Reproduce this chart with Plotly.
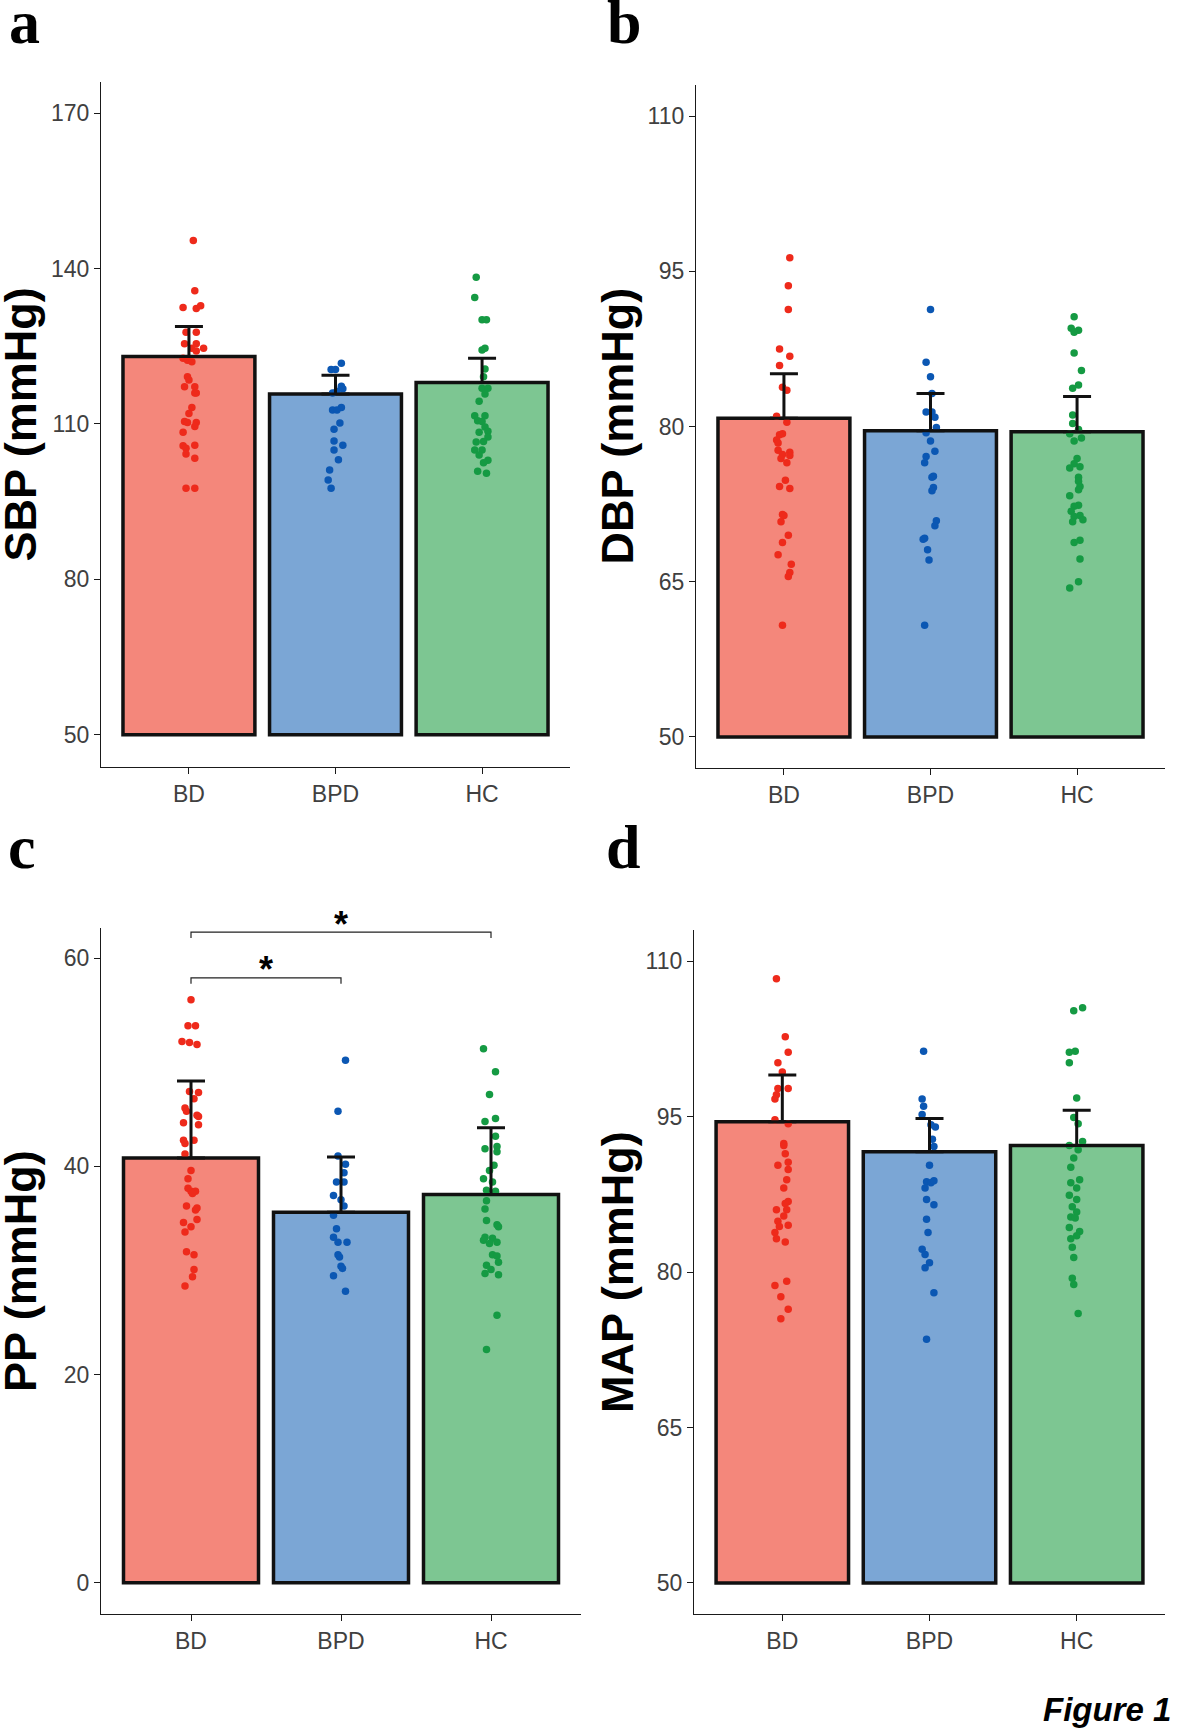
import plotly.graph_objects as go

W, H = 1180, 1732

groups = ['BD', 'BPD', 'HC']
bar_fill = ['#F4877B', '#7BA6D5', '#7DC692']
dot_color = ['#EE2A1B', '#0B57B3', '#159A43']

# --- SBP ---
sbp_mean = [123.0, 115.8, 118.0]
sbp_err = [5.8, 3.6, 4.7]
sbp_bd = [145.4, 135.7, 132.5, 132.3, 132.8, 127.7, 127.7, 125.5, 125.5, 124.6,
          124.6, 124.1, 122.7, 122.3, 122.0, 119.1, 118.5, 117.2, 117.2, 116.0,
          116.0, 113.2, 112.0, 110.5, 110.3, 110.3, 109.5, 108.4, 105.8, 105.9,
          105.3, 104.2, 103.4, 97.6, 97.6]
sbp_bd_jit = [0.03, 0.04, -0.04, 0.05, 0.08, -0.02, 0.05, -0.03, 0.05, 0.02,
              0.10, 0.05, -0.04, -0.01, 0.02, -0.01, 0.0, -0.03, 0.04, 0.04,
              0.05, 0.02, 0.0, -0.03, 0.05, -0.01, 0.04, -0.04, -0.04, 0.04,
              -0.02, -0.02, 0.04, -0.02, 0.04]
sbp_bpd = [121.7, 120.5, 120.5, 117.3, 116.8, 116.3, 116.0, 113.2, 112.7, 112.7,
           110.2, 109.0, 106.7, 105.9, 105.0, 103.1, 101.1, 99.2, 97.6]
sbp_bpd_jit = [0.04, -0.03, 0.0, 0.04, 0.05, 0.01, -0.02, 0.04, -0.02, 0.01,
               0.03, -0.01, -0.01, 0.05, -0.01, 0.02, -0.04, -0.05, -0.03]
sbp_hc = [138.3, 134.4, 130.1, 130.1, 124.3, 124.6, 120.6, 119.1, 116.9, 116.9,
          115.8, 114.4, 111.6, 111.6, 110.6, 110.5, 109.4, 108.6, 108.4, 107.5,
          106.5, 106.6, 105.0, 105.0, 104.0, 103.0, 102.5, 100.9, 100.5]
sbp_hc_jit = [-0.04, -0.05, 0.0, 0.03, 0.0, 0.02, 0.02, 0.01, 0.0, 0.04,
              0.02, -0.02, -0.05, 0.02, -0.03, 0.0, 0.02, 0.04, -0.02, 0.04,
              -0.04, 0.01, -0.05, 0.0, -0.02, 0.04, 0.01, -0.03, 0.03]

# --- DBP ---
dbp_mean = [80.8, 79.6, 79.5]
dbp_err = [4.3, 3.6, 3.4]
dbp_bd = [96.3, 93.6, 91.3, 87.5, 86.8, 85.9, 83.8, 83.5, 81.0, 80.4,
          79.3, 79.2, 78.7, 78.4, 77.7, 77.3, 77.5, 77.2, 76.9, 76.5,
          74.8, 74.2, 74.0, 71.5, 71.4, 70.8, 69.5, 68.8, 67.6, 66.7,
          65.9, 65.5, 60.8]
dbp_bd_jit = [0.04, 0.03, 0.03, -0.03, 0.04, -0.03, -0.01, 0.02, -0.05, 0.02,
              -0.01, -0.03, -0.05, -0.04, -0.04, -0.01, 0.04, 0.04, -0.02, 0.02,
              0.01, -0.03, 0.04, -0.01, 0.0, -0.02, 0.03, -0.01, -0.04, 0.05,
              0.04, 0.03, -0.01]
dbp_bpd = [91.3, 86.2, 84.8, 83.2, 81.4, 81.4, 80.9, 79.9, 79.4, 78.6,
           77.6, 77.1, 76.5, 75.2, 75.1, 74.1, 73.8, 70.9, 70.4, 69.2,
           69.1, 68.1, 67.1, 60.8]
dbp_bpd_jit = [0.0, -0.03, 0.0, 0.01, -0.03, 0.01, 0.03, 0.04, -0.03, 0.0,
               0.03, -0.03, -0.04, 0.02, 0.01, 0.02, 0.01, 0.04, 0.03, -0.04,
               -0.05, -0.02, -0.01, -0.04]
dbp_hc = [90.6, 89.5, 89.3, 89.1, 87.1, 85.4, 84.0, 83.7, 81.1, 80.3,
          79.7, 79.3, 78.9, 78.6, 76.9, 76.4, 76.1, 76.0, 75.1, 74.7,
          74.2, 73.9, 73.3, 72.4, 72.3, 71.8, 71.4, 71.3, 71.0, 70.8,
          69.0, 68.8, 67.2, 65.0, 64.4]
dbp_hc_jit = [-0.02, -0.04, 0.01, -0.02, -0.02, 0.03, 0.01, -0.03, -0.03, -0.03,
              0.01, -0.05, 0.03, -0.02, 0.0, -0.02, 0.02, -0.05, 0.01, 0.01,
              0.02, 0.01, -0.05, 0.01, -0.02, -0.04, 0.02, -0.02, 0.04, -0.03,
              0.02, -0.02, 0.02, 0.01, -0.05]

# --- PP ---
pp_mean = [40.8, 35.6, 37.3]
pp_err = [7.4, 5.3, 6.4]
pp_bd = [56.0, 53.5, 53.5, 52.0, 51.9, 51.7, 47.2, 47.1, 46.5, 45.6,
         45.3, 44.8, 44.9, 44.2, 44.0, 42.5, 42.2, 42.5, 41.2, 39.6,
         38.8, 37.9, 37.6, 37.6, 37.4, 36.2, 35.8, 36.0, 34.9, 34.6,
         34.2, 33.7, 31.8, 31.5, 30.1, 29.4, 28.5]
pp_bd_jit = [0.0, -0.02, 0.03, -0.06, -0.01, 0.04, -0.01, 0.05, 0.02, -0.04,
             -0.03, 0.05, 0.04, -0.05, 0.05, -0.05, -0.04, 0.02, -0.04, 0.0,
             -0.02, -0.02, 0.0, 0.03, 0.01, -0.03, 0.03, 0.04, 0.04, -0.05,
             0.0, -0.04, -0.03, 0.02, 0.02, 0.01, -0.04]
pp_bpd = [50.2, 45.3, 41.0, 40.2, 39.4, 38.5, 38.5, 37.2, 36.8, 36.2,
          35.3, 34.0, 33.2, 32.7, 32.7, 31.5, 31.3, 30.4, 30.2, 29.5, 28.0]
pp_bpd_jit = [0.03, -0.02, -0.02, 0.03, 0.02, -0.03, 0.02, -0.05, 0.0, 0.02,
              -0.05, -0.03, -0.05, -0.02, 0.04, -0.02, -0.01, 0.0, 0.01, -0.05, 0.03]
pp_hc = [51.3, 49.1, 46.9, 44.3, 44.6, 42.9, 41.7, 41.9, 41.4, 40.1,
         39.6, 38.8, 38.5, 37.7, 37.6, 36.7, 35.9, 34.8, 34.4, 34.2,
         33.2, 33.1, 32.7, 32.9, 32.6, 31.5, 31.4, 30.8, 30.5, 30.1,
         29.7, 29.6, 25.7, 22.4]
pp_hc_jit = [-0.05, 0.03, -0.01, -0.04, 0.03, 0.03, -0.04, 0.04, 0.04, 0.02,
             -0.01, -0.05, 0.01, -0.03, 0.03, -0.03, -0.04, -0.03, 0.04, 0.05,
             -0.04, 0.01, 0.04, -0.05, -0.01, 0.01, 0.04, 0.05, -0.03, 0.0,
             -0.04, 0.05, 0.04, -0.03]

# --- MAP ---
map_mean = [94.5, 91.6, 92.2]
map_err = [4.5, 3.2, 3.4]
map_bd = [108.3, 102.7, 101.2, 100.2, 99.3, 97.7, 97.7, 97.1, 96.7, 94.7,
          94.3, 92.4, 92.2, 91.4, 90.6, 90.3, 89.9, 88.9, 88.1, 86.8,
          86.6, 86.0, 86.0, 85.4, 84.9, 84.4, 84.5, 83.8, 83.2, 82.9,
          79.1, 78.7, 77.6, 76.4, 75.5]
map_bd_jit = [-0.04, 0.02, 0.04, -0.03, 0.0, -0.03, 0.04, -0.04, -0.05, -0.05,
              0.04, 0.01, 0.01, 0.02, 0.04, -0.03, 0.04, 0.03, 0.01, 0.04,
              0.02, -0.04, 0.03, 0.01, -0.03, -0.02, 0.04, -0.05, -0.04, 0.02,
              0.03, -0.05, -0.01, 0.04, -0.01]
map_bpd = [101.3, 96.7, 96.0, 95.2, 94.2, 94.0, 92.8, 92.1, 90.3, 88.7,
           88.6, 88.8, 88.1, 87.0, 86.5, 85.1, 83.8, 82.2, 81.7, 80.9,
           80.4, 78.0, 73.5]
map_bpd_jit = [-0.04, -0.05, -0.04, -0.05, 0.01, 0.04, 0.02, 0.03, 0.0, -0.02,
               0.01, 0.03, -0.03, -0.02, 0.03, -0.02, -0.01, -0.05, -0.03, 0.0,
               -0.03, 0.03, -0.02]
map_hc = [105.5, 105.2, 101.3, 101.2, 100.2, 96.8, 94.9, 94.3, 92.2, 92.6,
          91.8, 91.0, 90.1, 88.6, 88.9, 88.1, 87.4, 87.0, 86.3, 85.8,
          85.3, 85.2, 84.3, 83.9, 83.2, 83.5, 82.4, 81.4, 79.4, 78.8, 76.0]
map_hc_jit = [0.04, -0.02, -0.01, -0.05, -0.05, 0.0, -0.02, 0.01, -0.05, 0.04,
              0.01, -0.02, -0.04, -0.04, 0.02, 0.0, -0.05, 0.0, -0.03, 0.0,
              -0.04, -0.01, -0.05, 0.02, -0.04, 0.0, -0.03, -0.02, -0.03, -0.02, 0.01]

# significance brackets in panel c: (from group, to group, height, label)
pp_sig = [(0, 2, 62.5, '*'), (0, 1, 58.1, '*')]
sig_drop = 0.55

# panel setup: letter, title, bar floor, y range, y ticks, domains (pixels)
panels = [
    dict(letter='a', title='SBP (mmHg)', floor=50, yr=[43.8, 176.0],
         yt=[50, 80, 110, 140, 170], mean=sbp_mean, err=sbp_err,
         dots=[(sbp_bd, sbp_bd_jit), (sbp_bpd, sbp_bpd_jit), (sbp_hc, sbp_hc_jit)],
         xd=(101, 570), yd=(82, 767), tx=20, lx=8, lb=43),
    dict(letter='b', title='DBP (mmHg)', floor=50, yr=[47.0, 113.0],
         yt=[50, 65, 80, 95, 110], mean=dbp_mean, err=dbp_err,
         dots=[(dbp_bd, dbp_bd_jit), (dbp_bpd, dbp_bpd_jit), (dbp_hc, dbp_hc_jit)],
         xd=(696, 1165), yd=(85, 768), tx=617, lx=606, lb=43),
    dict(letter='c', title='PP (mmHg)', floor=0, yr=[-3.0, 62.9],
         yt=[0, 20, 40, 60], mean=pp_mean, err=pp_err,
         dots=[(pp_bd, pp_bd_jit), (pp_bpd, pp_bpd_jit), (pp_hc, pp_hc_jit)],
         xd=(101, 581), yd=(928, 1614), tx=20, lx=7, lb=868),
    dict(letter='d', title='MAP (mmHg)', floor=50, yr=[47.0, 113.0],
         yt=[50, 65, 80, 95, 110], mean=map_mean, err=map_err,
         dots=[(map_bd, map_bd_jit), (map_bpd, map_bpd_jit), (map_hc, map_hc_jit)],
         xd=(694, 1165), yd=(930, 1614), tx=617, lx=605, lb=868),
]

tick_font = dict(family='Liberation Sans Narrow, Arial Narrow, Liberation Sans, Arial',
                 size=23, color='#404040')
axis_col = '#1a1a1a'

fig = go.Figure()
layout = dict(width=W, height=H, margin=dict(l=0, r=0, t=0, b=0),
              paper_bgcolor='white', plot_bgcolor='white', showlegend=False,
              annotations=[], shapes=[])

for i, p in enumerate(panels):
    n = '' if i == 0 else str(i + 1)
    xa, ya = 'x' + n, 'y' + n
    xpos = list(range(len(groups)))

    fig.add_trace(go.Bar(
        x=xpos, y=[m - p['floor'] for m in p['mean']], base=p['floor'],
        width=0.9, xaxis=xa, yaxis=ya,
        marker=dict(color=bar_fill, line=dict(color='#111111', width=3.5))))

    for g, (vals, jit) in enumerate(p['dots']):
        fig.add_trace(go.Scatter(
            x=[g + j for j in jit], y=vals, mode='markers', xaxis=xa, yaxis=ya,
            marker=dict(size=7.5, color=dot_color[g]), cliponaxis=False))

    fig.add_trace(go.Scatter(
        x=xpos, y=p['mean'], mode='markers', xaxis=xa, yaxis=ya,
        marker=dict(size=1, color='rgba(0,0,0,0)'),
        error_y=dict(type='data', symmetric=False, array=p['err'],
                     arrayminus=[0] * len(groups), color='#111111',
                     thickness=3, width=14)))

    x0, x1 = p['xd']
    y0, y1 = p['yd']
    layout['xaxis' + n] = dict(
        domain=[x0 / W, x1 / W], range=[-0.6, 2.6], anchor=ya,
        tickvals=xpos, ticktext=groups, tickfont=tick_font,
        showline=True, linecolor=axis_col, linewidth=1.3,
        ticks='outside', ticklen=6, tickwidth=1.3, tickcolor=axis_col,
        showgrid=False, zeroline=False)
    layout['yaxis' + n] = dict(
        domain=[1 - y1 / H, 1 - y0 / H], range=p['yr'], anchor=xa,
        tickvals=p['yt'], tickfont=tick_font,
        showline=True, linecolor=axis_col, linewidth=1.3,
        ticks='outside', ticklen=6, tickwidth=1.3, tickcolor=axis_col,
        showgrid=False, zeroline=False)

    layout['annotations'].append(dict(
        text='<b>' + p['title'] + '</b>', textangle=-90, showarrow=False,
        xref='paper', yref='paper', x=p['tx'] / W, y=1 - (y0 + y1) / 2 / H,
        xanchor='center', yanchor='middle',
        font=dict(family='Liberation Sans, Arial', size=45, color='black')))
    layout['annotations'].append(dict(
        text='<b>' + p['letter'] + '</b>', showarrow=False,
        xref='paper', yref='paper', x=p['lx'] / W, y=1 - (p['lb'] + 14) / H,
        xanchor='left', yanchor='bottom', borderpad=0,
        font=dict(family='Liberation Serif, Times New Roman', size=62, color='black')))

# significance brackets on PP panel
for a, b, h, lab in pp_sig:
    layout['shapes'].append(dict(
        type='path', xref='x3', yref='y3',
        path='M {0},{1} L {0},{2} L {3},{2} L {3},{1}'.format(a, h - sig_drop, h, b),
        line=dict(color='#222222', width=1.2)))
    layout['annotations'].append(dict(
        text='<b>' + lab + '</b>', showarrow=False, xref='x3', yref='y3',
        x=(a + b) / 2, y=h, yanchor='middle', yshift=8,
        font=dict(family='Liberation Sans, Arial', size=36, color='black')))

layout['annotations'].append(dict(
    text='<b><i>Figure 1</i></b>', showarrow=False, xref='paper', yref='paper',
    x=1172 / W, y=1 - 1729 / H, xanchor='right', yanchor='bottom', borderpad=0,
    font=dict(family='Liberation Sans, Arial', size=33, color='black')))

fig.update_layout(**layout)
# drop the browser's default body margin so the figure sits at the page origin
fig.write_html('out.html', config={'displayModeBar': False},
               post_script="document.body.style.margin='0px';")
